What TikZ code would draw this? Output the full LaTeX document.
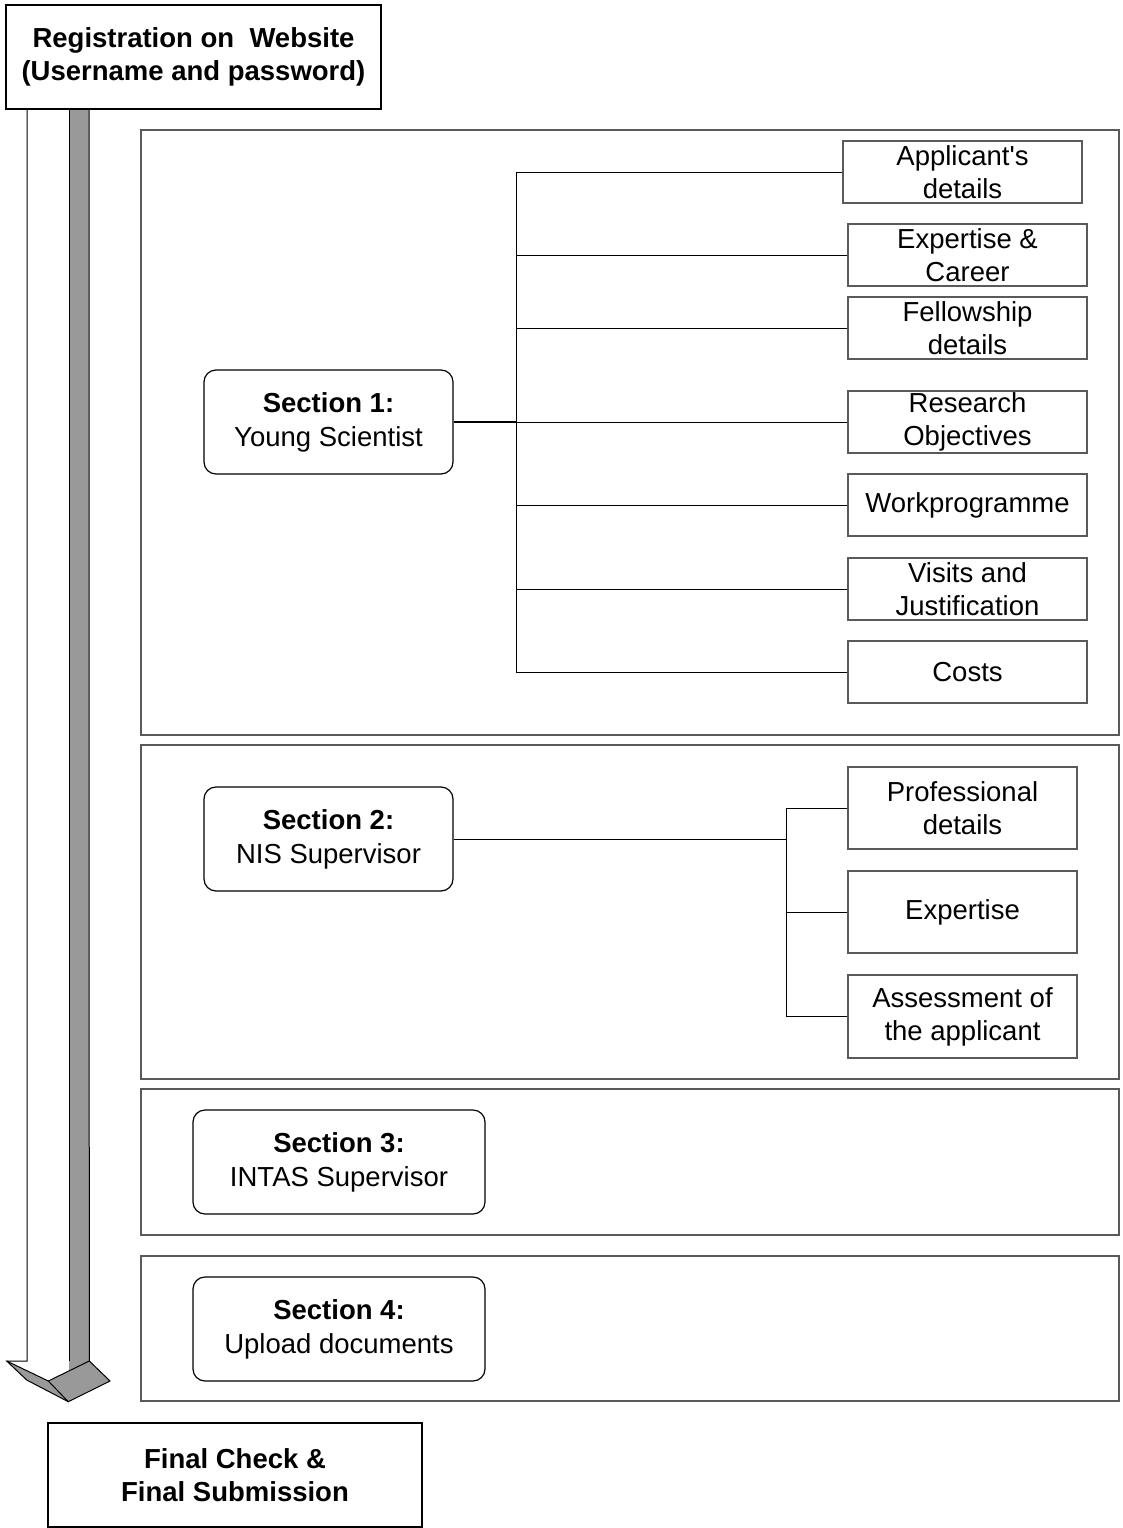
\documentclass[tikz,border=0pt]{standalone}
\usepackage{fontspec}
\setmainfont{Liberation Sans}[Ligatures=TeXOff]
\definecolor{shaftgray}{RGB}{153,153,153}
\definecolor{framecol}{RGB}{90,90,90}
\begin{document}
\begin{tikzpicture}[x=1pt,y=-1pt,
  txt/.style={font=\fontsize{27.5}{33}\selectfont, align=center, inner sep=0pt},
  lowered/.style={execute at begin node={\rule{0pt}{26pt}}},
  plainbox/.style={txt, draw=black, line width=1.2pt, fill=white},
  secbox/.style={txt, lowered, font=\fontsize{27.5}{34}\selectfont, draw=black, line width=1.2pt, rounded corners=12pt, fill=white, minimum width=249pt, minimum height=104pt},
  subbox/.style={plainbox, draw=framecol, minimum width=239pt, minimum height=62pt},
  subboxb/.style={plainbox, draw=framecol, minimum width=229pt, minimum height=82pt},
  frame/.style={draw=framecol, line width=1.3pt, inner sep=0pt},
  link/.style={draw=black, line width=0.9pt},
  arrowline/.style={draw=black, line width=1pt, line join=miter}
]
\useasboundingbox (0,0) rectangle (1123,1528);

% ---- big down arrow ----
\fill[shaftgray] (69,108) -- (89,108) -- (89.3,1361) -- (110,1381) -- (68.3,1401.7) -- (48.3,1381) -- (69,1370.8) -- cycle;
\fill[shaftgray] (6.7,1361) -- (26.7,1380) -- (68.3,1401.7) -- (48.3,1381) -- cycle;
\draw[arrowline] (27,108) -- (27,1361) -- (6.7,1361) -- (26.7,1380) -- (68.3,1401.7) -- (110,1381) -- (89.3,1361) -- (89,108);
\draw[arrowline] (69,108) -- (69,1361);
\draw[arrowline] (6.7,1361) -- (48.3,1381) -- (89.3,1361);
\draw[arrowline] (48.3,1381) -- (68.3,1401.7);

% ---- top and bottom boxes ----
\node[plainbox, lowered, minimum width=375pt, minimum height=104pt] (reg) at (193.5,57)
  {\textbf{Registration on\ \ Website}\\\textbf{(Username and password)}};
\node[plainbox, minimum width=374pt, minimum height=104pt] (final) at (235,1475)
  {\textbf{Final Check \&}\\\textbf{Final Submission}};

% ---- section frames ----
\node[frame, minimum width=978pt, minimum height=605pt] (frame1) at (630,432.5) {};
\node[frame, minimum width=978pt, minimum height=334pt] (frame2) at (630,912) {};
\node[frame, minimum width=978pt, minimum height=146pt] (frame3) at (630,1162) {};
\node[frame, minimum width=978pt, minimum height=145pt] (frame4) at (630,1328.5) {};

% ---- section 1 ----
\node[secbox] (s1) at (328.5,422) {\textbf{Section 1:}\\Young Scientist};
\node[subbox] (app) at (962.5,172) {Applicant's\\details};
\node[subbox] (exc) at (967.5,255) {Expertise \&\\Career};
\node[subbox] (fel) at (967.5,328) {Fellowship\\details};
\node[subbox] (res) at (967.5,422) {Research\\Objectives};
\node[subbox] (wor) at (967.5,505) {Workprogramme};
\node[subbox] (vis) at (967.5,589) {Visits and\\Justification};
\node[subbox] (cos) at (967.5,672) {Costs};
\coordinate (t1top) at (516,172);
\coordinate (t1bot) at (516,672);
\draw[link] (t1top) -- (t1bot);
\draw[link, line width=1.5pt] (s1.east) -- (s1.east -| t1top);
\foreach \n in {app,exc,fel,res,wor,vis,cos}
  \draw[link] (\n.west) -- (\n.west -| t1top);

% ---- section 2 ----
\node[secbox] (s2) at (328.5,839) {\textbf{Section 2:}\\NIS Supervisor};
\node[subboxb] (pro) at (962.5,808) {Professional\\details};
\node[subboxb] (exp) at (962.5,912) {Expertise};
\node[subboxb, minimum height=83pt] (ass) at (962.5,1016.5) {Assessment of\\the applicant};
\coordinate (t2top) at (786,808);
\coordinate (t2bot) at (786,1016.5);
\draw[link] (t2top) -- (t2bot);
\draw[link] (s2.east) -- (s2.east -| t2top);
\foreach \n in {pro,exp,ass}
  \draw[link] (\n.west) -- (\n.west -| t2top);

% ---- sections 3 and 4 ----
\node[secbox, minimum width=292pt] (s3) at (339,1162) {\textbf{Section 3:}\\INTAS Supervisor};
\node[secbox, minimum width=292pt] (s4) at (339,1329) {\textbf{Section 4:}\\Upload documents};
\end{tikzpicture}
\end{document}
